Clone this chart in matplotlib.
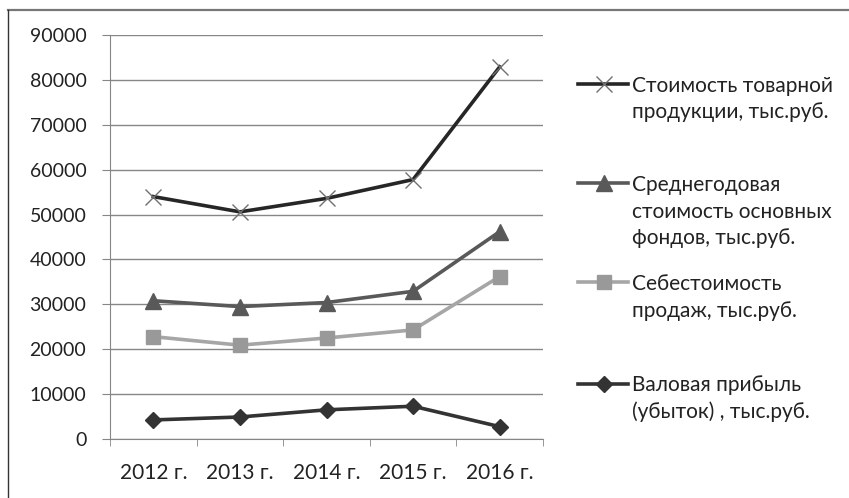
import matplotlib
matplotlib.use("Agg")
import matplotlib.pyplot as plt
from matplotlib.lines import Line2D
from matplotlib.ticker import MultipleLocator

plt.rcParams['font.family'] = ['Lato', 'DejaVu Sans']

# данные
years = ['2012 г.', '2013 г.', '2014 г.', '2015 г.', '2016 г.']
tovar = [54000, 50600, 53600, 57800, 82900]
fondy = [30800, 29500, 30400, 32900, 46200]
sebest = [22800, 20900, 22500, 24300, 36200]
pribyl = [4250, 4900, 6500, 7300, 2750]

labels = [['Стоимость товарной', 'продукции, тыс.руб.'],
          ['Среднегодовая', 'стоимость основных', 'фондов, тыс.руб.'],
          ['Себестоимость', 'продаж, тыс.руб.'],
          ['Валовая прибыль', '(убыток) , тыс.руб.']]

W, H = 849, 498
fig = plt.figure(figsize=(W / 100, H / 100), dpi=100)
ax = fig.add_axes([110 / W, 1 - 439 / H, 433 / W, 404 / H])

x = list(range(len(years)))
styles = [
    dict(color='#262626', lw=2.6, marker='x', ms=11, mew=1, mec='#707070'),
    dict(color='#595959', lw=2.6, marker='^', ms=11, mec='#595959', mfc='#595959'),
    dict(color='#a6a6a6', lw=2.6, marker='s', ms=10, mec='#999999', mfc='#999999'),
    dict(color='#333333', lw=2.6, marker='D', ms=8, mec='#333333', mfc='#333333'),
]
for vals, st in zip([tovar, fondy, sebest, pribyl], styles):
    ax.plot(x, vals, zorder=3, clip_on=False, **st)

ax.set_xlim(-0.5, len(years) - 0.5)
ax.set_ylim(0, 90000)
ax.yaxis.set_major_locator(MultipleLocator(10000))
ax.grid(axis='y', color='#868686', lw=1)
ax.set_axisbelow(True)
ax.set_xticks(x)
ax.set_xticklabels(years)
ax.set_xticks([i - 0.5 for i in range(len(years) + 1)], minor=True)
ax.tick_params(axis='x', which='major', length=0, pad=17, labelsize=15, labelcolor='#222222')
ax.tick_params(axis='x', which='minor', length=5, color='#868686')
ax.tick_params(axis='y', length=6, color='#868686', pad=11, labelsize=14, labelcolor='#222222')
for s in ['top', 'right']:
    ax.spines[s].set_visible(False)
ax.spines['left'].set_color('#868686')
ax.spines['bottom'].set_color('#868686')

# легенда вручную
leg_base = [92, 191, 290, 391]
pitch = 26.5
for st, lab, yb in zip(styles, labels, leg_base):
    fy = 1 - (yb - 7.5) / H
    fig.add_artist(Line2D([578 / W, 628 / W], [fy, fy], color=st['color'], lw=st['lw']))
    mk = {k: v for k, v in st.items() if k not in ('color', 'lw')}
    fig.add_artist(Line2D([604 / W], [fy], color=st['color'], ls='none', **mk))
    for i, line in enumerate(lab):
        fig.text(632 / W, 1 - (yb + i * pitch) / H, line, ha='left', va='baseline',
                 fontsize=15, color='#222222')

# рамка (видны только верх и левый край)
fig.add_artist(Line2D([8 / W, 1], [1 - 10.5 / H] * 2, color='#777777', lw=1.6))
fig.add_artist(Line2D([8 / W] * 2, [0, 1 - 10 / H], color='#333333', lw=1))

fig.savefig('out.png', dpi=100)
